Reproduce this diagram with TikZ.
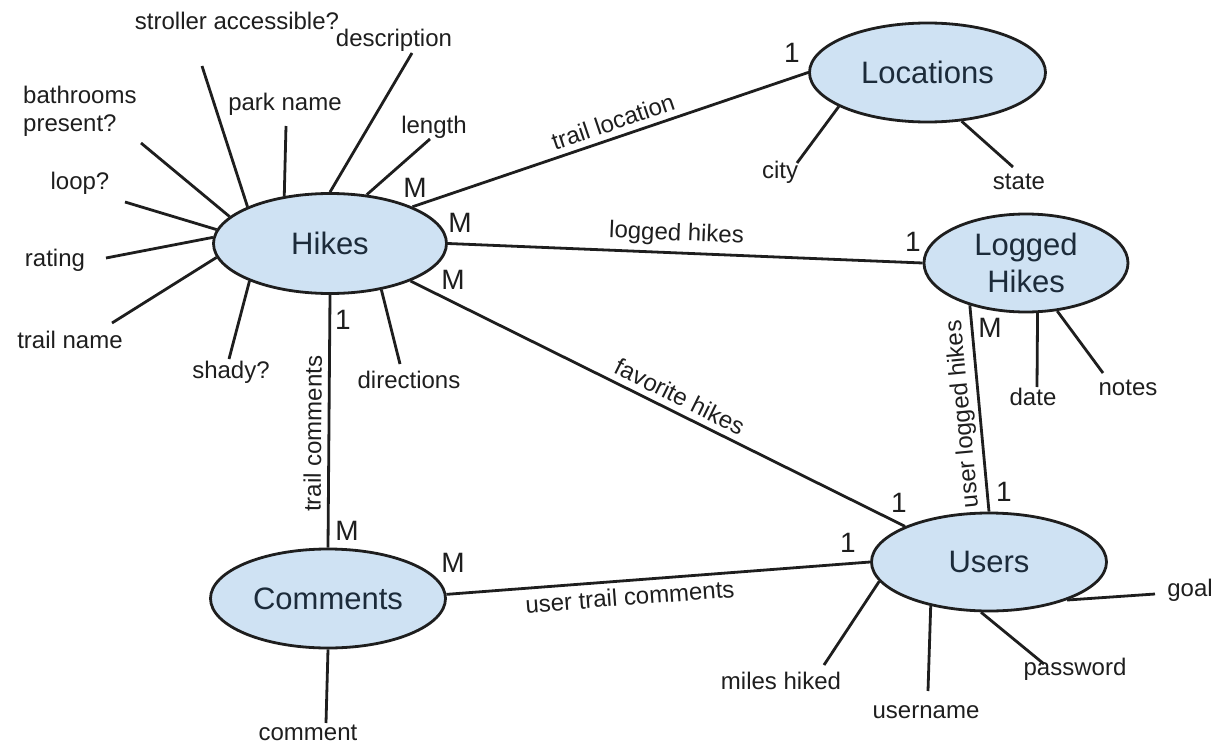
\documentclass[tikz,border=0pt]{standalone}
\usepackage{fontspec}
\setmainfont{Liberation Sans}
\usetikzlibrary{shapes.geometric}
\definecolor{entfill}{HTML}{CFE2F3}
\definecolor{enttext}{HTML}{1C2B3A}
\definecolor{ink}{HTML}{1E1E1E}
\begin{document}
\begin{tikzpicture}[x=1pt,y=-1pt,
  entity/.style={ellipse, draw=ink, line width=2.8pt, fill=entfill, text=enttext,
    font=\fontsize{31}{37}\selectfont, inner sep=0pt, align=center},
  attr/.style={font=\fontsize{24}{28}\selectfont, text=ink, inner sep=1pt},
  card/.style={font=\fontsize{28}{30}\selectfont, text=ink, inner sep=0pt},
  link/.style={line width=2.8pt, draw=ink},
  rel/.style={font=\fontsize{24}{28}\selectfont, text=ink, sloped, inner sep=6pt}]
\useasboundingbox (0,0) rectangle (1219,744);

% entities
\node[entity, minimum width=233pt, minimum height=100pt] (hikes) at (330,243.5) {Hikes};
\node[entity, minimum width=236pt, minimum height=99pt] (loc) at (927.5,72.5) {Locations};
\node[entity, minimum width=204pt, minimum height=98pt] (logged) at (1026,263) {Logged\\Hikes};
\node[entity, minimum width=235pt, minimum height=98pt] (users) at (989,562) {Users};
\node[entity, minimum width=235pt, minimum height=99pt] (comments) at (328,598.5) {Comments};

% relationships
\draw[link] (hikes.24) -- node[rel, above, pos=0.52] (r-loc) {trail location} (loc.180);
\draw[link] (hikes.0) -- node[rel, above, pos=0.48] (r-logged) {logged hikes} (logged.180);
\draw[link] (hikes.-25) -- node[rel, above, pos=0.53] (r-fav) {favorite hikes} (users.157);
\draw[link] (comments.90) -- node[rel, above, pos=0.45] (r-tc) {trail comments} (hikes.-90);
\draw[link] (comments.2) -- node[rel, below, pos=0.43] (r-utc) {user trail comments} (users.180);
\draw[link] (users.90) -- node[rel, above, pos=0.48, allow upside down, inner sep=4pt] (r-ulh) {user logged hikes} (logged.217);

% cardinalities
\node[card] (k1) at (415,188) {M};
\node[card] (k2) at (792,53) {1};
\node[card] (k3) at (460,223) {M};
\node[card] (k4) at (913,242) {1};
\node[card] (k5) at (453,280) {M};
\node[card] (k6) at (899,503) {1};
\node[card] (k7) at (343,320) {1};
\node[card] (k8) at (347,531) {M};
\node[card] (k9) at (453,563) {M};
\node[card] (k10) at (848,543) {1};
\node[card] (k11) at (990,328) {M};
\node[card] (k12) at (1004,492) {1};

% Hikes attributes
\node[attr] (l-stroller) at (237,21) {stroller accessible?};
\node[attr] (l-desc) at (394,40) {description};
\node[attr] (l-park) at (285,104) {park name};
\node[attr] (l-length) at (434,127) {length};
\node[attr, anchor=west, align=left] (l-bath) at (22,111) {bathrooms\\present?};
\node[attr] (l-loop) at (80,183) {loop?};
\node[attr] (l-rating) at (55,260) {rating};
\node[attr] (l-trail) at (70,340) {trail name};
\node[attr] (l-shady) at (231,372) {shady?};
\node[attr] (l-dir) at (409,380) {directions};

\coordinate (e-stroller) at (202,66);
\coordinate (e-park) at (286,126);
\coordinate (e-desc) at (412,53);
\coordinate (e-length) at (430,139);
\coordinate (e-bath) at (141,143);
\coordinate (e-loop) at (125,202);
\coordinate (e-rating) at (106,258);
\coordinate (e-trail) at (112,323);
\coordinate (e-shady) at (229,359);
\coordinate (e-dir) at (400,364);

\draw[link] (e-stroller) -- (hikes.156);
\draw[link] (e-park) -- (hikes.134);
\draw[link] (e-desc) -- (hikes.90);
\draw[link] (e-length) -- (hikes.53);
\draw[link] (e-bath) -- (hikes.165);
\draw[link] (e-loop) -- (hikes.173);
\draw[link] (e-rating) -- (hikes.177);
\draw[link] (e-trail) -- (hikes.187);
\draw[link] (e-shady) -- (hikes.205);
\draw[link] (e-dir) -- (hikes.-42);

% Locations attributes
\node[attr] (l-city) at (780,172) {city};
\node[attr] (l-state) at (1019,182) {state};
\coordinate (e-city) at (797,163);
\coordinate (e-state) at (1013,167);
\draw[link] (e-city) -- (loc.201);
\draw[link] (e-state) -- (loc.-55);

% Logged Hikes attributes
\node[attr] (l-date) at (1033,397) {date};
\node[attr] (l-notes) at (1128,388) {notes};
\coordinate (e-date) at (1037,387);
\coordinate (e-notes) at (1103,373);
\draw[link] (e-date) -- (logged.-77);
\draw[link] (e-notes) -- (logged.-57);

% Users attributes
\node[attr] (l-miles) at (781,681) {miles hiked};
\node[attr] (l-user) at (926,712) {username};
\node[attr] (l-pass) at (1075,669) {password};
\node[attr] (l-goal) at (1190,590) {goal};
\coordinate (e-miles) at (824,665);
\coordinate (e-user) at (928,691);
\coordinate (e-pass) at (1044,664);
\coordinate (e-goal) at (1155,594);
\draw[link] (e-miles) -- (users.190);
\draw[link] (e-user) -- (users.217);
\draw[link] (e-pass) -- (users.261);
\draw[link] (e-goal) -- (users.-26);

% Comments attribute
\node[attr] (l-comment) at (308,733) {comment};
\coordinate (e-comment) at (326,723);
\draw[link] (e-comment) -- (comments.-90);
\end{tikzpicture}
\end{document}
